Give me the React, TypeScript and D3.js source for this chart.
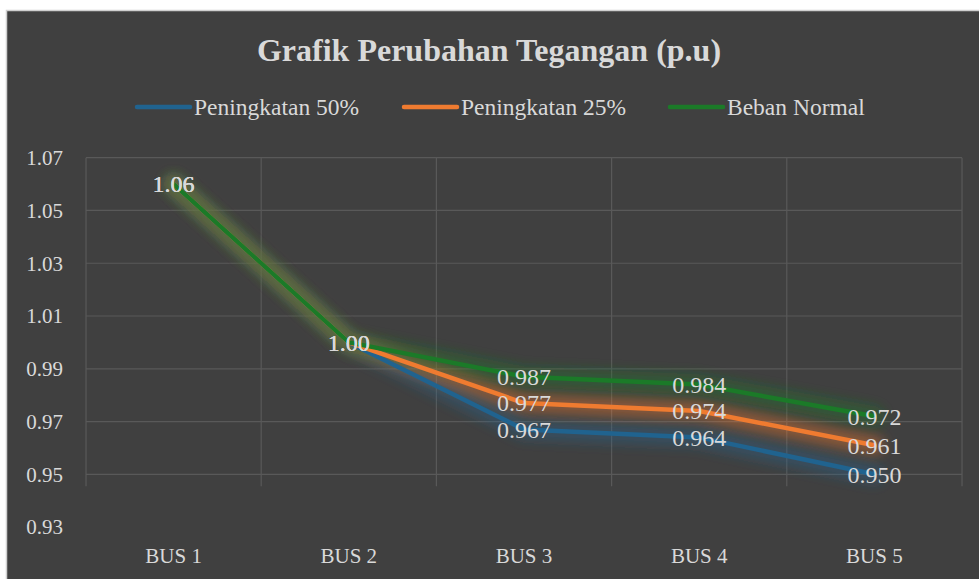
import React, { useEffect, useRef } from "react";
import * as d3 from "d3";

const categories = ["BUS 1", "BUS 2", "BUS 3", "BUS 4", "BUS 5"];
const seriesNames = ["Peningkatan 50%", "Peningkatan 25%", "Beban Normal"];
const naik50 = [1.06, 1.0, 0.967, 0.964, 0.95];
const naik25 = [1.06, 1.0, 0.977, 0.974, 0.961];
const normal = [1.06, 1.0, 0.987, 0.984, 0.972];
const yTicks = [0.93, 0.95, 0.97, 0.99, 1.01, 1.03, 1.05, 1.07];
const colors = ["#20638f", "#ef7b30", "#1b7a28"];

const W = 979;
const H = 579;
const margin = { top: 157.7, right: 17, left: 86 };
const font = "'Liberation Serif', 'Times New Roman', serif";
const textColor = "#d9d9d9";

function fmt(v: number) {
  // data labels: 2 decimals for 1.06 / 1.00, 3 otherwise
  const s = v.toFixed(3);
  return s.endsWith("0") && v >= 1 ? v.toFixed(2) : s;
}

export default function App() {
  const ref = useRef<SVGGElement>(null);

  useEffect(() => {
    const g = d3.select(ref.current);
    g.selectAll("*").remove();

    const x = d3.scaleBand().domain(categories).range([margin.left, W - margin.right]);
    const y = d3.scaleLinear().domain([0.93, 1.07]).range([margin.top + 52.77 * 7, margin.top]);

    const grid = g.append("g");
    grid.selectAll(".hg")
      .data(yTicks.filter(t => t >= 0.949))
      .enter()
      .append("line")
      .attr("x1", margin.left)
      .attr("x2", W - margin.right)
      .attr("y1", d => y(d))
      .attr("y2", d => y(d))
      .attr("stroke", "#595959")
      .attr("stroke-width", 1.2);

    const edges = categories.map(c => x(c) as number).concat([W - margin.right]);
    grid.selectAll(".vg")
      .data(edges)
      .enter()
      .append("line")
      .attr("x1", d => d)
      .attr("x2", d => d)
      .attr("y1", y(1.07))
      .attr("y2", y(0.9455))
      .attr("stroke", "#595959")
      .attr("stroke-width", 1.2);

    // y tick labels
    g.selectAll(".yt")
      .data(yTicks)
      .enter()
      .append("text")
      .attr("x", 63)
      .attr("y", d => y(d))
      .attr("dy", "0.35em")
      .attr("text-anchor", "end")
      .attr("font-family", font)
      .attr("font-size", "21px")
      .attr("fill", textColor)
      .text(d => d.toFixed(2));

    // x labels
    g.selectAll(".xt")
      .data(categories)
      .enter()
      .append("text")
      .attr("x", d => (x(d) as number) + x.bandwidth() / 2)
      .attr("y", 563)
      .attr("text-anchor", "middle")
      .attr("font-family", font)
      .attr("font-size", "21px")
      .attr("fill", textColor)
      .text(d => d);

    const line = d3.line<number>()
      .x((d, i) => (x(categories[i]) as number) + x.bandwidth() / 2)
      .y(d => y(d));

    const series = [naik50, naik25, normal];

    // glow
    series.forEach((s, i) => {
      g.append("path")
        .attr("d", line(s))
        .attr("fill", "none")
        .attr("stroke", colors[i])
        .attr("stroke-width", 20)
        .attr("stroke-opacity", 0.4)
        .attr("stroke-linejoin", "round")
        .attr("stroke-linecap", "round")
        .attr("filter", "url(#glow)");
    });

    // green ends up on top, like the picture
    series.forEach((s, i) => {
      g.append("path")
        .attr("d", line(s))
        .attr("fill", "none")
        .attr("stroke", colors[i])
        .attr("stroke-width", 4.5)
        .attr("stroke-linejoin", "round")
        .attr("stroke-linecap", "round");
    });

    // data labels
    series.forEach(s => {
      g.selectAll(null)
        .data(s)
        .enter()
        .append("text")
        .attr("x", (d, i) => (x(categories[i]) as number) + x.bandwidth() / 2)
        .attr("y", d => y(d))
        .attr("dy", "0.35em")
        .attr("text-anchor", "middle")
        .attr("font-family", font)
        .attr("font-size", "24px")
        .attr("fill", textColor)
        .text(d => fmt(d));
    });

    // legend
    const legendX = [137, 404, 670];
    const lg = g.append("g");
    seriesNames.forEach((name, i) => {
      lg.append("line")
        .attr("x1", legendX[i])
        .attr("x2", legendX[i] + 53)
        .attr("y1", 107)
        .attr("y2", 107)
        .attr("stroke", colors[i])
        .attr("stroke-width", 4.5)
        .attr("stroke-linecap", "round");
      lg.append("text")
        .attr("x", legendX[i] + 57)
        .attr("y", 107)
        .attr("dy", "0.35em")
        .attr("font-family", font)
        .attr("font-size", "23.5px")
        .attr("fill", textColor)
        .text(name);
    });

    g.append("text")
      .attr("x", 489)
      .attr("y", 61)
      .attr("text-anchor", "middle")
      .attr("font-family", font)
      .attr("font-weight", "bold")
      .attr("font-size", "32px")
      .attr("fill", textColor)
      .text("Grafik Perubahan Tegangan (p.u)");
  }, []);

  return (
    <svg
      width={W}
      height={H}
      style={{ position: "absolute", left: 0, top: 0, background: "#ffffff" }}
    >
      <defs>
        <filter id="glow" x="-20%" y="-50%" width="140%" height="200%">
          <feGaussianBlur stdDeviation="6" />
        </filter>
      </defs>
      <rect x={6.5} y={10.5} width={W} height={H} fill="#404040" stroke="#d0d0d0" strokeWidth={1.5} />
      <g ref={ref} />
    </svg>
  );
}
